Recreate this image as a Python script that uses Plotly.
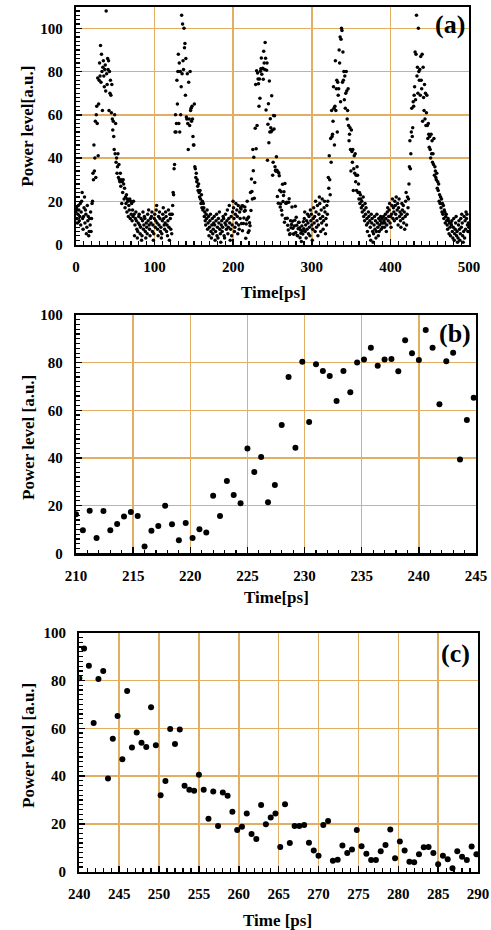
import plotly.graph_objects as go

FONT = "Liberation Serif, Times New Roman, serif"
GRID = "rgb(226,174,100)"
T_STEP = 0.6

# ---- panel (a): power level samples, 0 ps .. 209.4 ps ----
a_head = [
    15, 17, 12, 10, 14, 18, 16, 11, 13, 19,
    9, 15, 20, 24, 12, 7, 13, 17, 22, 10,
    16, 14, 5, 8, 18, 11, 13, 4, 6, 12,
    9, 15, 6, 12, 19, 20, 33, 30, 46, 34,
    40, 57, 31, 60, 64, 56, 77, 41, 65, 76,
    84, 78, 92, 75, 88, 80, 62, 82, 85, 78,
    73, 81, 83, 71, 108, 79, 74, 86, 81, 85,
    62, 80, 70, 76, 69, 61, 74, 58, 53, 57,
    50, 44, 60, 42, 56, 38, 40, 33, 36, 42,
    31, 37, 30, 29, 33, 27, 30, 19, 29, 24,
    30, 28, 21, 26, 17, 22, 19, 23, 15, 21,
    20, 13, 18, 16, 21, 12, 20, 14, 19, 11,
    16, 13, 20, 14, 4, 9, 12, 15, 11, 7,
    3, 6, 10, 13, 14, 9, 5, 8, 12, 2,
    4, 11, 15, 7, 9, 13, 12, 6, 3, 10,
    8, 5, 14, 11, 16, 9, 7, 4, 12, 10,
    13, 15, 6, 9, 2, 5, 12, 14, 8, 11,
    16, 18, 10, 7, 4, 13, 9, 15, 12, 6,
    8, 3, 5, 11, 14, 17, 12, 9, 7, 10,
    15, 13, 6, 9, 4, 11, 16, 8, 2, 14,
    12, 7, 14, 5, 14, 18, 24, 23, 35, 37,
    52, 60, 52, 56, 76, 65, 80, 88, 56, 84,
    52, 80, 60, 73, 106, 79, 102, 85, 81, 100,
    91, 93, 69, 86, 59, 58, 79, 56, 44, 75,
    58, 55, 80, 62, 63, 57, 64, 58, 50, 46,
    46, 65, 36, 35, 31, 33, 29, 30, 27, 25,
    28, 24, 22, 25, 21, 19, 23, 17, 20, 16,
    19, 17, 13, 15, 11, 9, 14, 12, 16, 7,
    10, 13, 4, 8, 11, 14, 6, 3, 9, 12,
    5, 7, 10, 13, 9, 2, 6, 11, 14, 4,
    8, 3, 12, 10, 15, 7, 5, 1, 9, 11,
    6, 8, 13, 12, 4, 3, 10, 14, 9, 7,
    11, 16, 5, 8, 12, 18, 10, 2, 7, 13,
    4, 9, 15, 20, 17, 12, 6, 8, 14, 19,
    10, 16, 13, 5, 18, 9, 7, 15, 12, 17,
]

# ---- panel (a): power level samples, 290 ps .. 499.4 ps ----
a_tail = [
    12, 15, 6, 9, 3, 11, 7, 14, 10, 5,
    13, 8, 4, 16, 11, 14, 9, 2, 7, 12,
    17, 10, 13, 6, 20, 15, 8, 11, 18, 4,
    9, 14, 22, 19, 12, 6, 16, 10, 21, 13,
    7, 11, 17, 20, 15, 5, 12, 9, 18, 14,
    20, 31, 26, 41, 30, 23, 49, 38, 62, 50,
    51, 57, 73, 63, 46, 64, 85, 62, 72, 76,
    52, 75, 69, 72, 90, 84, 96, 66, 95, 100,
    99, 75, 89, 76, 80, 67, 78, 63, 70, 80,
    71, 58, 62, 72, 55, 48, 51, 54, 44, 34,
    53, 43, 38, 44, 25, 35, 41, 33, 42, 29,
    32, 25, 36, 32, 24, 28, 21, 24, 19, 23,
    21, 17, 20, 15, 18, 22, 13, 16, 11, 19,
    14, 17, 9, 12, 6, 10, 15, 13, 4, 11,
    8, 2, 14, 10, 12, 6, 1, 5, 9, 13,
    7, 11, 3, 6, 14, 10, 8, 4, 12, 6,
    9, 11, 13, 7, 10, 12, 8, 10, 13, 11,
    8, 10, 14, 12, 6, 9, 15, 17, 11, 13,
    16, 19, 10, 13, 8, 14, 18, 21, 12, 17,
    15, 11, 20, 18, 14, 22, 12, 16, 19, 9,
    17, 21, 13, 15, 11, 8, 14, 19, 16, 12,
    18, 10, 15, 7, 13, 20, 24, 9, 14, 22,
    17, 21, 28, 36, 48, 35, 42, 52, 63, 50,
    54, 66, 64, 69, 73, 89, 67, 88, 106, 78,
    82, 70, 100, 80, 76, 81, 69, 87, 76, 72,
    88, 57, 82, 68, 62, 74, 58, 70, 55, 61,
    69, 55, 49, 56, 51, 45, 50, 44, 40, 51,
    42, 48, 38, 42, 37, 49, 32, 36, 34, 31,
    30, 33, 26, 29, 25, 28, 20, 23, 19, 22,
    17, 21, 15, 19, 14, 18, 12, 16, 15, 10,
    13, 14, 11, 9, 7, 12, 11, 5, 10, 8,
    4, 10, 9, 11, 6, 3, 8, 12, 2, 5,
    7, 10, 13, 4, 6, 1, 3, 9, 11, 7,
    2, 5, 12, 8, 14, 10, 4, 1, 6, 13,
    3, 11, 7, 15, 12, 14, 9, 6, 10, 8,
]

# ---- panel (b): 210 ps .. 244.8 ps ----
b_start = 210.0
b_vals = [
    16.4, 9.7, 17.9, 6.4, 17.8, 9.7, 12.3, 15.4, 17.3, 15.7,
    2.9, 9.5, 11.5, 20.0, 12.2, 5.5, 12.7, 6.4, 10.1, 8.7,
    24.1, 15.7, 30.3, 24.5, 21.0, 44.0, 34.1, 40.4, 21.4, 28.7,
    53.8, 74.0, 44.3, 80.4, 55.1, 79.3, 76.5, 74.4, 63.9, 76.5,
    67.6, 80.1, 81.3, 86.3, 78.7, 81.3, 81.5, 76.4, 89.4, 83.9,
    81.1, 93.7, 86.3, 62.5, 80.6, 84.2, 39.4, 55.9, 65.3,
]

# ---- panel (c): 240 ps .. 289.8 ps ----
c_start = 240.0
c_vals = [
    80.9, 93.4, 86.2, 62.2, 80.6, 84.0, 39.0, 55.6, 65.1, 47.1,
    75.6, 52.0, 58.2, 54.0, 52.2, 68.8, 52.9, 32.0, 38.0, 59.7,
    53.4, 59.5, 36.0, 34.3, 33.9, 40.6, 34.3, 22.2, 33.6, 19.1,
    33.1, 31.8, 25.1, 17.4, 18.8, 24.4, 15.8, 13.7, 27.9, 19.9,
    22.7, 24.4, 10.3, 28.2, 12.0, 19.1, 19.1, 19.5, 12.1, 8.9,
    6.7, 19.5, 21.2, 4.6, 5.0, 11.0, 7.8, 9.3, 17.4, 10.7,
    7.5, 4.9, 4.9, 8.6, 11.2, 17.7, 5.6, 12.6, 8.9, 4.2,
    4.0, 7.3, 10.2, 10.3, 7.8, 3.1, 6.7, 5.2, 1.4, 8.6,
    6.3, 4.9, 10.5, 7.3,
]

a_vals = a_head + b_vals[:50] + c_vals + a_tail
a_t = [round(T_STEP * i, 1) for i in range(len(a_vals))]
b_t = [round(b_start + T_STEP * i, 1) for i in range(len(b_vals))]
c_t = [round(c_start + T_STEP * i, 1) for i in range(len(c_vals))]

W, H = 491, 930


def px_x(p):
    return p / W


def px_y(p):
    return 1 - p / H


fig = go.Figure()
fig.add_trace(go.Scatter(x=a_t, y=a_vals, mode="markers", xaxis="x", yaxis="y",
                         marker=dict(color="black", size=3.5), showlegend=False,
                         hoverinfo="skip"))
fig.add_trace(go.Scatter(x=b_t, y=b_vals, mode="markers", xaxis="x2", yaxis="y2",
                         marker=dict(color="black", size=6), showlegend=False,
                         hoverinfo="skip"))
fig.add_trace(go.Scatter(x=c_t, y=c_vals, mode="markers", xaxis="x3", yaxis="y3",
                         marker=dict(color="black", size=6), showlegend=False,
                         hoverinfo="skip"))

tickfont = dict(family=FONT, size=15, color="black", weight="bold")


def xax(domain, rng, dtick, mdtick, anchor):
    return dict(domain=domain, range=rng, tick0=rng[0], dtick=dtick, anchor=anchor,
                automargin=False,
                showgrid=True, gridcolor=GRID, gridwidth=1.5, zeroline=False,
                showline=True, linecolor="black", linewidth=2.2, mirror=True,
                ticks="inside", ticklen=6, tickwidth=1.5, tickcolor="black",
                minor=dict(dtick=mdtick, tick0=rng[0], ticks="inside", ticklen=3.5,
                           tickwidth=1.2, tickcolor="black", showgrid=False),
                tickfont=tickfont, ticklabelstandoff=7, fixedrange=True)


def yax(domain, rng, dtick, mdtick, anchor):
    return dict(domain=domain, range=rng, tick0=0, dtick=dtick, anchor=anchor,
                automargin=False,
                showgrid=True, gridcolor=GRID, gridwidth=1.5, zeroline=False,
                showline=True, linecolor="black", linewidth=2.2, mirror=True,
                ticks="inside", ticklen=6, tickwidth=1.5, tickcolor="black",
                minor=dict(dtick=mdtick, tick0=0, ticks="inside", ticklen=3.5,
                           tickwidth=1.2, tickcolor="black", showgrid=False),
                tickfont=tickfont, ticklabelstandoff=8, fixedrange=True)


fig.update_layout(
    width=W, height=H, margin=dict(l=0, r=0, t=0, b=0, autoexpand=False),
    paper_bgcolor="white", plot_bgcolor="white",
    font=dict(family=FONT, color="black"),
    hovermode=False,
    xaxis=xax([px_x(76), px_x(469)], [0, 500], 100, 10, "y"),
    yaxis=yax([px_y(244.5), px_y(6.7)], [0, 110], 20, 2, "x"),
    xaxis2=xax([px_x(76), px_x(476)], [210, 245], 5, 1, "y2"),
    yaxis2=yax([px_y(553.3), px_y(315)], [0, 100], 20, 2, "x2"),
    xaxis3=xax([px_x(79.3), px_x(478)], [240, 290], 5, 1, "y3"),
    yaxis3=yax([px_y(871.7), px_y(632.7)], [0, 100], 20, 2, "x3"),
)

tfont = dict(family=FONT, size=17, color="black", weight="bold")
lfont = dict(family=FONT, size=26, color="black", weight="bold")
ann = [
    dict(text="Power level[a.u.]", x=px_x(26.7), y=px_y(126), textangle=-90, font=tfont),
    dict(text="Time[ps]", x=px_x(273), y=px_y(292.7), font=tfont),
    dict(text="Power level [a.u.]", x=px_x(28), y=px_y(438), textangle=-90, font=tfont),
    dict(text="Time[ps]", x=px_x(276), y=px_y(597.7), font=tfont),
    dict(text="Power level [a.u.]", x=px_x(28), y=px_y(746), textangle=-90, font=tfont),
    dict(text="Time [ps]", x=px_x(277.5), y=px_y(920), font=tfont),
    dict(text="(a)", x=px_x(467), y=px_y(25), xanchor="right", font=lfont),
    dict(text="(b)", x=px_x(473), y=px_y(333), xanchor="right", font=lfont),
    dict(text="(c)", x=px_x(472), y=px_y(653), xanchor="right", font=lfont),
]
for a in ann:
    a.setdefault("xanchor", "center")
    fig.add_annotation(xref="paper", yref="paper", yanchor="middle", showarrow=False, **a)

fig.write_html(
    "out.html",
    config={"displayModeBar": False, "staticPlot": True},
    post_script="document.body.style.margin='0px';"
                "document.documentElement.style.overflow='hidden';"
                "document.body.style.overflow='hidden';",
)
